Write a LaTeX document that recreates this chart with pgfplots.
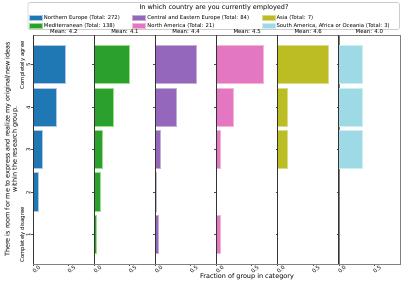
\documentclass[border=0pt]{standalone}
\usepackage{fontspec}
\setmainfont{DejaVu Sans}
\usepackage{pgfplots}
\pgfplotsset{compat=1.18}
\definecolor{cA}{HTML}{1F77B4}\definecolor{cAe}{HTML}{AEC7E8}
\definecolor{cB}{HTML}{2CA02C}\definecolor{cBe}{HTML}{98DF8A}
\definecolor{cC}{HTML}{9467BD}\definecolor{cCe}{HTML}{C5B0D5}
\definecolor{cD}{HTML}{E377C2}\definecolor{cDe}{HTML}{F7B6D2}
\definecolor{cE}{HTML}{BCBD22}\definecolor{cEe}{HTML}{DBDB8D}
\definecolor{cF}{HTML}{9EDAE5}\definecolor{cFe}{HTML}{CDEEF3}
\newcommand{\tickf}{\fontsize{5.4}{6.2}\selectfont}
\newcommand{\legf}{\fontsize{5.3}{6.2}\selectfont}
\newcommand{\labf}{\fontsize{6.5}{7.3}\selectfont}
\newcommand{\meanlabel}[1]{\node[font=\tickf, anchor=south, inner sep=1.2bp] at (rel axis cs:0.5,1) {Mean: #1};}
\pgfplotsset{
  panel/.style={
    scale only axis, width=61.1bp, height=229bp, anchor=south west,
    xmin=0, xmax=0.87, ymin=0.3, ymax=5.7, clip=false,
    xbar, bar width=0.9,
    xtick={0,0.5}, xticklabels={0.0,0.5},
    ytick={1,2,3,4,5}, yticklabels={},
    tick align=outside, major tick length=2.2bp,
    tick style={black!70, line width=0.5bp},
    xtick pos=lower, ytick pos=left,
    axis line style={draw=black!50, line width=0.6bp},
    xticklabel style={font=\tickf, rotate=45, anchor=center, yshift=-4.5bp},
    /pgf/number format/assume math mode=true,
  },
  bars/.style={fill=#1, draw=#1e, line width=0.7bp},
}
\begin{document}
\begin{tikzpicture}
% overlay axis for legend, title and labels
\begin{axis}[at={(0,0)}, anchor=south west, scale only axis, width=407bp, height=291bp,
  xmin=0, xmax=407, ymin=0, ymax=291, hide axis, clip=false,
  legend columns=3, legend cell align=left,
  legend image code/.code={\path[#1] (0bp,-2.3bp) rectangle (13bp,2.3bp);},
  legend style={at={(0.07125,0.9502)}, anchor=north west, draw=none, fill=none,
    inner sep=0pt, outer sep=0pt, font=\legf, row sep=1.6bp, column sep=0bp,
    nodes={inner xsep=1.5bp, inner ysep=0.8bp, text height=3.9bp, text depth=1.1bp},
    /tikz/every even column/.append style={column sep=11bp}}]
\addlegendimage{fill=cA, draw=cAe, line width=0.5bp}
\addlegendentry{Northern Europe (Total: 272)}
\addlegendimage{fill=cC, draw=cCe, line width=0.5bp}
\addlegendentry{Central and Eastern Europe (Total: 84)}
\addlegendimage{fill=cE, draw=cEe, line width=0.5bp}
\addlegendentry{Asia (Total: 7)}
\addlegendimage{fill=cB, draw=cBe, line width=0.5bp}
\addlegendentry{Mediterranean (Total: 138)}
\addlegendimage{fill=cD, draw=cDe, line width=0.5bp}
\addlegendentry{North America (Total: 21)}
\addlegendimage{fill=cF, draw=cFe, line width=0.5bp}
\addlegendentry{South America, Africa or Oceania (Total: 3)}
\draw[black!20, line width=0.6bp, rounded corners=1.5bp] (axis cs:28,261.5) rectangle (axis cs:399.5,288.5);
\node[font=\labf] at (axis cs:214,283.5) {In which country are you currently employed?};
\node[font=\labf, rotate=90, align=center] at (axis cs:11.5,141.5)
  {There is room for me to express and realize my original/new ideas\\within the research group.};
\node[font=\labf] at (axis cs:247,14) {Fraction of group in category};
\end{axis}

\begin{axis}[panel, at={(33.3bp,27bp)},
  yticklabels={{Completely disagree\\1},2,3,4,{Completely agree\\5}},
  yticklabel style={font=\tickf, rotate=90, align=center, anchor=south, inner sep=0.5bp, xshift=-0.5bp}]
\addplot[bars=cA] coordinates {(0.005,1) (0.076,2) (0.133,3) (0.324,4) (0.462,5)};
\draw[black!80, line width=0.7bp] (rel axis cs:0,0) -- (rel axis cs:0,1);
\meanlabel{4.2}
\end{axis}
\begin{axis}[panel, at={(94.4bp,27bp)}]
\addplot[bars=cB] coordinates {(0.025,1) (0.085,2) (0.12,3) (0.27,4) (0.50,5)};
\draw[black!80, line width=0.7bp] (rel axis cs:0,0) -- (rel axis cs:0,1);
\meanlabel{4.1}
\end{axis}
\begin{axis}[panel, at={(155.5bp,27bp)}]
\addplot[bars=cC] coordinates {(0.0357,1) (0.0119,2) (0.0714,3) (0.2976,4) (0.5833,5)};
\draw[black!80, line width=0.7bp] (rel axis cs:0,0) -- (rel axis cs:0,1);
\meanlabel{4.4}
\end{axis}
\begin{axis}[panel, at={(216.6bp,27bp)}]
\addplot[bars=cD] coordinates {(0.0476,1) (0.0476,3) (0.2381,4) (0.6667,5)};
\draw[black!80, line width=0.7bp] (rel axis cs:0,0) -- (rel axis cs:0,1);
\meanlabel{4.5}
\end{axis}
\begin{axis}[panel, at={(277.7bp,27bp)}]
\addplot[bars=cE] coordinates {(0.1429,3) (0.1429,4) (0.7143,5)};
\draw[black!80, line width=0.7bp] (rel axis cs:0,0) -- (rel axis cs:0,1);
\meanlabel{4.6}
\end{axis}
\begin{axis}[panel, at={(338.8bp,27bp)}]
\addplot[bars=cF] coordinates {(0.3333,3) (0.3333,4) (0.3333,5)};
\draw[black!80, line width=0.7bp] (rel axis cs:0,0) -- (rel axis cs:0,1);
\meanlabel{4.0}
\end{axis}
\pgfresetboundingbox
\path[use as bounding box] (0,0) rectangle (407bp,291bp);
\end{tikzpicture}
\end{document}
